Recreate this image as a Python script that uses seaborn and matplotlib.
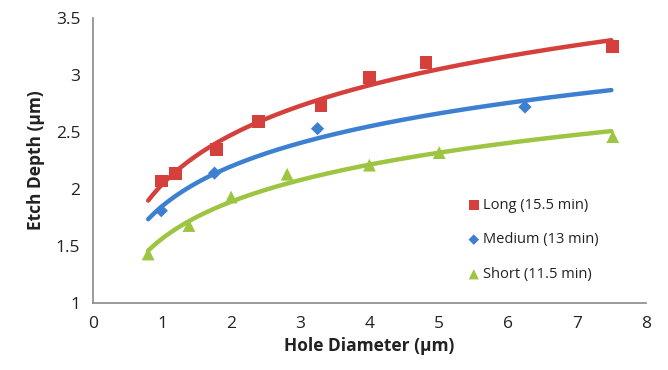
import numpy as np
import pandas as pd
import matplotlib
matplotlib.use("Agg")
import matplotlib.pyplot as plt
import seaborn as sns

# ---- data ----
long_x = [0.99, 1.2, 1.79, 2.4, 3.3, 4.0, 4.82, 7.52]
long_y = [2.07, 2.14, 2.35, 2.59, 2.73, 2.98, 3.11, 3.25]
medium_x = [0.99, 1.76, 3.25, 6.25]
medium_y = [1.81, 2.14, 2.53, 2.72]
short_x = [0.8, 1.39, 2.0, 2.81, 4.0, 5.01, 7.52]
short_y = [1.43, 1.68, 1.93, 2.13, 2.21, 2.32, 2.46]

series_names = ["Long (15.5 min)", "Medium (13 min)", "Short (11.5 min)"]
series_x = [long_x, medium_x, short_x]
series_y = [long_y, medium_y, short_y]
colors = ["#D6403C", "#3D7FD0", "#9DC541"]
markers = ["s", "D", "^"]
msizes = [85, 45, 85]

x_ticks = [0, 1, 2, 3, 4, 5, 6, 7, 8]
y_ticks = [1, 1.5, 2, 2.5, 3, 3.5]
y_tick_labels = ["1", "1.5", "2", "2.5", "3", "3.5"]
trend_range = (0.8, 7.5)

sns.set_style("white")
plt.rcParams["font.family"] = ["Open Sans", "DejaVu Sans"]

fig = plt.figure(figsize=(6.68, 3.70), dpi=100)
ax = fig.add_axes([0.139, 0.181, 0.828, 0.770])

for name, xs, ys, c, m, s in zip(series_names, series_x, series_y, colors, markers, msizes):
    # logarithmic trendline (least squares on ln x)
    b, a = np.polyfit(np.log(xs), ys, 1)
    xt = np.linspace(trend_range[0], trend_range[1], 200)
    trend = pd.DataFrame({"x": xt, "y": a + b * np.log(xt)})
    sns.lineplot(data=trend, x="x", y="y", ax=ax, color=c, linewidth=3.2,
                 legend=False, zorder=2)
    df = pd.DataFrame({"x": xs, "y": ys})
    sns.scatterplot(data=df, x="x", y="y", ax=ax, color=c, marker=m, s=s,
                    edgecolor="none", label=name, zorder=3)

ax.set_xlim(0, 8)
ax.set_ylim(1, 3.5)
ax.set_xticks(x_ticks)
ax.set_yticks(y_ticks)
ax.set_yticklabels(y_tick_labels)
ax.tick_params(axis="both", which="major", direction="out", length=5, width=1,
               color="#8a8a8a", labelsize=12.5, labelcolor="#222222", pad=4)

for sp in ["top", "right"]:
    ax.spines[sp].set_visible(False)
for sp in ["left", "bottom"]:
    ax.spines[sp].set_color("#8a8a8a")
    ax.spines[sp].set_linewidth(1.2)

ax.set_xlabel("Hole Diameter (µm)", fontsize=12.5, fontweight="bold", color="#222222", labelpad=4)
ax.set_ylabel("Etch Depth (µm)", fontsize=12.5, fontweight="bold", color="#222222", labelpad=8)

leg = ax.legend(loc="upper left", bbox_to_anchor=(0.665, 0.39), frameon=False,
                fontsize=10.5, handletextpad=0.1, labelspacing=1.35,
                handlelength=1.0, borderaxespad=0, markerscale=0.8)
for t in leg.get_texts():
    t.set_color("#222222")

fig.savefig("out.png", dpi=100)
